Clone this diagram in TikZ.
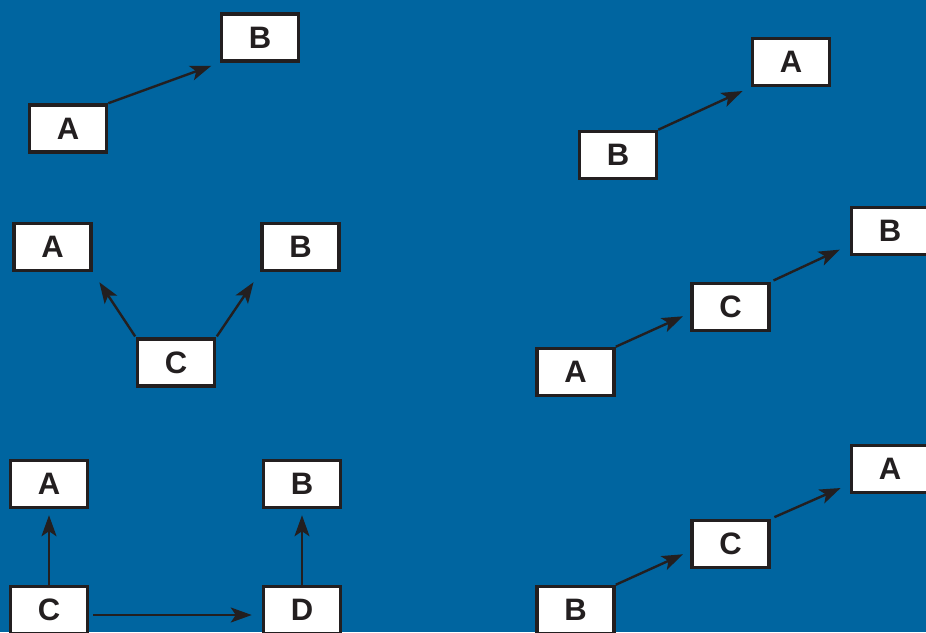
\documentclass[tikz,border=0pt]{standalone}
\usepackage{fontspec}
\setmainfont{Liberation Sans}
\usetikzlibrary{arrows.meta}
\definecolor{bg}{RGB}{0,101,160}
\definecolor{ink}{RGB}{35,31,32}
\tikzset{
  box/.style={draw=ink, fill=white, line width=3.5pt, minimum width=77pt, minimum height=47pt,
    inner sep=0pt, font=\fontsize{31}{32}\selectfont\bfseries, text=ink},
  conn/.style={draw=ink, line width=2.4pt, -{Stealth[length=21pt,width=15pt,inset=5pt]}}
}
\begin{document}
\begin{tikzpicture}[x=1pt,y=-1pt]
\fill[bg] (0,0) rectangle (926,632);
\useasboundingbox (0,0) rectangle (926,632);
% panel 1
\node[box] (p1a) at (68,128.5) {A};
\node[box] (p1b) at (260,37.5) {B};
\draw[conn, shorten >=9pt] (p1a.north east) -- (p1b.south west);
% panel 2
\node[box] (p2a) at (52.5,247) {A};
\node[box] (p2b) at (300.5,247) {B};
\node[box] (p2c) at (176,362.5) {C};
\draw[conn, shorten >=12pt, shorten <=1pt] (p2c.north west) -- (p2a.south east);
\draw[conn, shorten >=12pt, shorten <=1pt] (p2c.north east) -- (p2b.south west);
% panel 3
\node[box] (p3a) at (49,484) {A};
\node[box] (p3b) at (302,484) {B};
\node[box] (p3c) at (49,610) {C};
\node[box] (p3d) at (302,610) {D};
\draw[conn, shorten >=6pt] (p3c.north) -- (p3a.south);
\draw[conn, shorten >=6pt] (p3d.north) -- (p3b.south);
\draw[conn, shorten >=10pt, shorten <=4pt] ([yshift=-5pt]p3c.east) -- ([yshift=-5pt]p3d.west);
% right 1
\node[box] (r1b) at (618,155) {B};
\node[box] (r1a) at (791,62) {A};
\draw[conn, shorten >=9pt] (r1b.north east) -- (r1a.south west);
% right 2
\node[box] (r2a) at (575.5,372) {A};
\node[box] (r2c) at (730.5,307) {C};
\node[box] (r2b) at (890,231) {B};
\draw[conn, shorten >=8pt] (r2a.north east) -- ([yshift=-6pt]r2c.west);
\draw[conn, shorten >=11pt, shorten <=3pt] (r2c.north east) -- ([yshift=-14pt]r2b.west);
% right 3
\node[box] (r3b) at (575.5,610) {B};
\node[box] (r3c) at (730.5,544) {C};
\node[box] (r3a) at (890,469) {A};
\draw[conn, shorten >=8pt] (r3b.north east) -- ([yshift=-7pt]r3c.west);
\draw[conn, shorten >=10pt, shorten <=4pt] (r3c.north east) -- ([yshift=-15pt]r3a.west);
\end{tikzpicture}
\end{document}
